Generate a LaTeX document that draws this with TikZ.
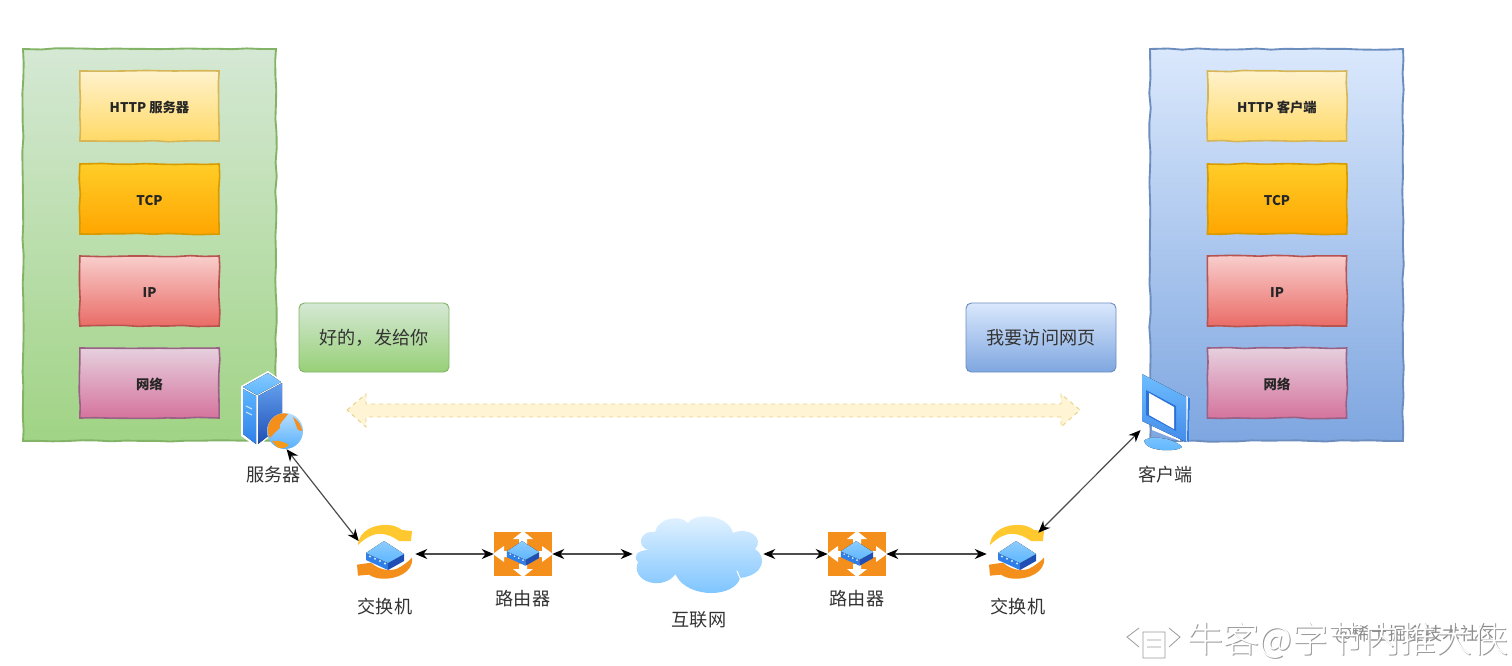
\documentclass[tikz,border=0pt]{standalone}
\usepackage{fontspec}
\setmainfont{Noto Sans CJK SC}
\newfontfamily\wmfont{Noto Sans CJK SC Light}
\usetikzlibrary{arrows.meta,decorations.pathmorphing}
\definecolor{gA}{HTML}{D5E8D4}\definecolor{gB}{HTML}{97D077}\definecolor{gL}{HTML}{82B366}
\definecolor{bA}{HTML}{DAE8FC}\definecolor{bB}{HTML}{7EA6E0}\definecolor{bL}{HTML}{6C8EBF}
\definecolor{yA}{HTML}{FFF2CC}\definecolor{yB}{HTML}{FFD966}\definecolor{yL}{HTML}{D6B656}
\definecolor{oA}{HTML}{FFCD28}\definecolor{oB}{HTML}{FFA500}\definecolor{oL}{HTML}{D79B00}
\definecolor{rA}{HTML}{F8CECC}\definecolor{rB}{HTML}{EA6B66}\definecolor{rL}{HTML}{B85450}
\definecolor{pA}{HTML}{E6D0DE}\definecolor{pB}{HTML}{D5739D}\definecolor{pL}{HTML}{996185}
\definecolor{txt}{HTML}{333333}
\definecolor{arcY}{HTML}{FFC82E}\definecolor{arcO}{HTML}{F58F1B}
\definecolor{devT}{HTML}{5DB6FF}\definecolor{devL}{HTML}{2F7FE8}\definecolor{devR}{HTML}{1F4FB5}
\tikzset{
  sketch/.style={decorate,decoration={random steps,segment length=11pt,amplitude=.55pt}},
  bigbox/.style n args={3}{sketch,draw=#3,line width=1.4pt,top color=#1,bottom color=#2,
    minimum width=189.75pt,minimum height=294pt,inner sep=0pt},
  layerbox/.style n args={3}{sketch,draw=#3,line width=1.2pt,top color=#1,bottom color=#2,
    minimum width=104.5pt,minimum height=52.5pt,inner sep=0pt,text height=11pt,text depth=2pt,
    font=\fontsize{10}{12}\bfseries,text=black!85},
  callout/.style n args={3}{draw=#3,line width=.7pt,top color=#1,bottom color=#2,rounded corners=4pt,
    minimum width=112.5pt,minimum height=51.75pt,inner sep=0pt,font=\fontsize{13.6}{16}\selectfont,text=txt},
  lbl/.style={font=\fontsize{13.6}{16}\selectfont,text=txt,inner sep=0pt},
  anchorbox/.style n args={2}{inner sep=0pt,minimum width=#1*.75pt,minimum height=#2*.75pt},
  link/.style={draw=black!70,line width=.9pt,{Stealth[length=9pt,width=7.5pt,black]}-{Stealth[length=9pt,width=7.5pt,black]}},
  pics/netdev/.style={code={
    \fill[devL] (-19,-2) -- (3,8) -- (3,15) -- (-19,5) -- cycle;
    \fill[devR] (3,8) -- (19,-1) -- (19,6) -- (3,15) -- cycle;
    \fill[top color=devT!70!white,bottom color=devT] (-1,-14) -- (19,-1) -- (3,8) -- (-19,-2) -- cycle;
    \fill[white!80!devT] (-15,1.5) circle (1.1) (-10,3.8) circle (1.1) (-5,6) circle (1.1) (0,8.4) circle (1.1);
  }},
  pics/swarcs/.style={code={
    \fill[arcY] (-27,-7) .. controls (-26,-22) and (-10,-28) .. (3,-27)
      .. controls (8,-27) and (13,-25) .. (17,-22) -- (27,-21) -- (26,-11) -- (14,-11)
      .. controls (6,-17) and (-4,-20) .. (-12,-17) .. controls (-18,-15) and (-23,-11) .. (-27,-7) -- cycle;
    \fill[arcO,yshift=1] (27,7) .. controls (29,22) and (10,29) .. (-3,28)
      .. controls (-8,28) and (-13,26) .. (-16,24) -- (-27,25) -- (-28,14) -- (-14,12)
      .. controls (-6,19) and (4,21) .. (12,18) .. controls (18,15) and (22,12) .. (27,7) -- cycle;
  }},
  pics/rtbase/.style={code={
    \fill[arcO] (-29,-22) rectangle (29,22);
    \fill[white] (0,-23) -- (10,-15) -- (4,-15) -- (4,-10) -- (-4,-10) -- (-4,-15) -- (-10,-15) -- cycle;
    \fill[white] (0,23) -- (10,15) -- (4,15) -- (4,10) -- (-4,10) -- (-4,15) -- (-10,15) -- cycle;
    \fill[white] (-30,0) -- (-19,-8) -- (-19,-3) -- (-12,-3) -- (-12,3) -- (-19,3) -- (-19,8) -- cycle;
    \fill[white] (30,0) -- (19,-8) -- (19,-3) -- (12,-3) -- (12,3) -- (19,3) -- (19,8) -- cycle;
  }},
}
\begin{document}
\begin{tikzpicture}[x=.75pt,y=-.75pt]
\useasboundingbox (0,0) rectangle (1512,665);
\pgfmathsetseed{7}
% stacks
\node[bigbox={gA}{gB!85!gA}{gL}] (srvstack) at (149.5,245) {};
\node[bigbox={bA}{bB}{bL}] (clistack) at (1276.5,245) {};
\node[layerbox={yA}{yB}{yL}] (l1) at (149.5,106) {HTTP 服务器};
\node[layerbox={oA}{oB}{oL}] (l2) at (149.5,199) {TCP};
\node[layerbox={rA}{rB}{rL}] (l3) at (149.5,291) {IP};
\node[layerbox={pA}{pB}{pL}] (l4) at (149.5,383) {网络};
\node[layerbox={yA}{yB}{yL}] (r1) at (1277,106) {HTTP 客户端};
\node[layerbox={oA}{oB}{oL}] (r2) at (1277,199) {TCP};
\node[layerbox={rA}{rB}{rL}] (r3) at (1277,291) {IP};
\node[layerbox={pA}{pB}{pL}] (r4) at (1277,383) {网络};
% callouts
\node[callout={gA}{gB}{gL}] (say1) at (374,337.5) {好的，发给你};
\node[callout={bA}{bB}{bL}] (say2) at (1041,337.5) {我要访问网页};
% wide dashed double arrow
\path[draw=yL!55!yA,dashed,line width=.7pt,fill=yA!85!white]
  (347,410) -- (366,394) -- (366,404) -- (1061,404) -- (1061,394) -- (1080,410) -- (1061,427) -- (1061,417) -- (366,417) -- (366,427) -- cycle;
% server icon
\fill[white] (241,386) -- (268,371) -- (284,382) -- (284,425) -- (257,447) -- (241,436) -- cycle;
\fill[top color=devT!75!white,bottom color=devT] (243,387) -- (268,373) -- (281,382) -- (257,395) -- cycle;
\fill[top color=devT,bottom color=devL] (243,389) -- (256,396) -- (256,444) -- (243,434) -- cycle;
\fill[top color=devL!75!white,bottom color=devR] (258,396) -- (282,383) -- (282,425) -- (258,444) -- cycle;
\draw[white!70!devT,line width=.7pt] (246,406) -- (252,409) (246,412) -- (252,415);
\node[circle,minimum size=27pt,inner sep=0pt,top color=white!55!devT,bottom color=devT!90!devL] (globe) at (285,431) {};
\fill[arcO] (269,424) .. controls (272,415) and (282,412) .. (288,414) .. controls (284,420) and (278,424) .. (280,428) .. controls (275,432) and (272,436) .. (270,438) .. controls (267,433) and (267,428) .. (269,424) -- cycle;
\fill[arcO] (293,417) .. controls (298,420) and (302,426) .. (302,431) .. controls (298,431) and (296,428) .. (296,425) -- cycle;
\fill[arcO!90!yellow] (272,441) .. controls (278,440) and (285,442) .. (289,445) .. controls (285,449) and (280,449) .. (277,447) -- cycle;
\node[lbl] (srvlbl) at (273.5,475) {服务器};
% client icon
\fill[top color=devT!80!white,bottom color=devT] (1144,441) .. controls (1146,436) and (1172,436) .. (1182,447) .. controls (1178,452) and (1146,452) .. (1144,441) -- cycle;
\fill[white] (1152,424) -- (1180,436) -- (1180,441) -- (1152,430) -- cycle;
\fill[white] (1186,396) -- (1190,398) -- (1189,442) -- (1186,441) -- cycle;
\fill[devL] (1188,397) -- (1190,398) -- (1189,442) -- (1187,441) -- cycle;
\fill[top color=devT!90!white,bottom color=devL!90!white] (1142,374) -- (1186,397) -- (1186,442) -- (1142,421) -- cycle;
\fill[devL!70!devR] (1146,390) -- (1176,406) -- (1176,431) -- (1146,415) -- cycle;
\fill[white] (1149,393) -- (1174,407) -- (1174,429) -- (1149,415) -- cycle;
\node[inner sep=0pt,minimum width=37pt,minimum height=58pt] (client) at (1165.5,412) {};
\node[lbl] (clilbl) at (1165.5,475) {客户端};
% network devices
\pic at (385,552) {swarcs};
\pic at (385,555) {netdev};
\node[anchorbox={60}{42}] (sw1) at (385,554) {};
\node[lbl] (sw1lbl) at (385,607) {交换机};
\pic at (523,554) {rtbase};
\pic[scale=.85] at (523,553) {netdev};
\node[anchorbox={58}{44}] (rt1) at (523,554) {};
\node[lbl] (rt1lbl) at (523,599) {路由器};
\path[top color=white!85!devT,bottom color=devT!85!white]
  (648,550) .. controls (636,546) and (640,530) .. (655,532)
  .. controls (658,518) and (680,514) .. (688,523)
  .. controls (695,512) and (728,514) .. (733,533)
  .. controls (748,526) and (765,538) .. (755,549)
  .. controls (767,556) and (765,575) .. (740,578)
  .. controls (735,597) and (690,600) .. (675,575)
  .. controls (660,592) and (630,580) .. (638,562)
  .. controls (632,556) and (638,550) .. (648,550) -- cycle;
\draw[white,line width=.8pt,line cap=round] (675,575) -- (680,583) (740,578) -- (737,571);
\node[anchorbox={130}{60}] (cloud) at (698,554) {};
\node[lbl] (cloudlbl) at (699,620) {互联网};
\pic at (857,554) {rtbase};
\pic[scale=.85] at (857,553) {netdev};
\node[anchorbox={58}{44}] (rt2) at (857,554) {};
\node[lbl] (rt2lbl) at (857,599) {路由器};
\pic at (1017,552) {swarcs};
\pic at (1017,555) {netdev};
\node[anchorbox={60}{42}] (sw2) at (1017,554) {};
\node[lbl] (sw2lbl) at (1018,607) {交换机};
% connectors
\draw[link] (globe.-85) -- ([shift={(4,0)}]sw1.157);
\draw[link] (sw1) -- (rt1);
\draw[link] (rt1) -- (cloud);
\draw[link] (cloud) -- (rt2);
\draw[link] (rt2) -- (sw2);
\draw[link] (sw2.45) -- (client.216);
% watermark
\node[text=black!40,font=\wmfont\fontsize{27}{30}\selectfont,inner sep=0pt,anchor=west] (wms) at (1188.5,641) {牛客@字节内推大侠};
\node[text=black!45,font=\fontsize{13.5}{16}\selectfont,inner sep=0pt,anchor=west] (wm2) at (1335,634) {@稀土掘金技术社区};
\node[text=white,font=\wmfont\fontsize{27}{30}\selectfont,inner sep=0pt,anchor=west] (wmt) at (1187,640) {牛客@字节内推大侠};
\draw[black!40,line width=.6pt] (1139,628) -- (1127,637) -- (1139,647) (1169,628) -- (1180,637) -- (1169,647)
  (1143,632) rectangle (1165,658) (1147,640) -- (1161,640) (1147,647) -- (1161,647);
\end{tikzpicture}
\end{document}
